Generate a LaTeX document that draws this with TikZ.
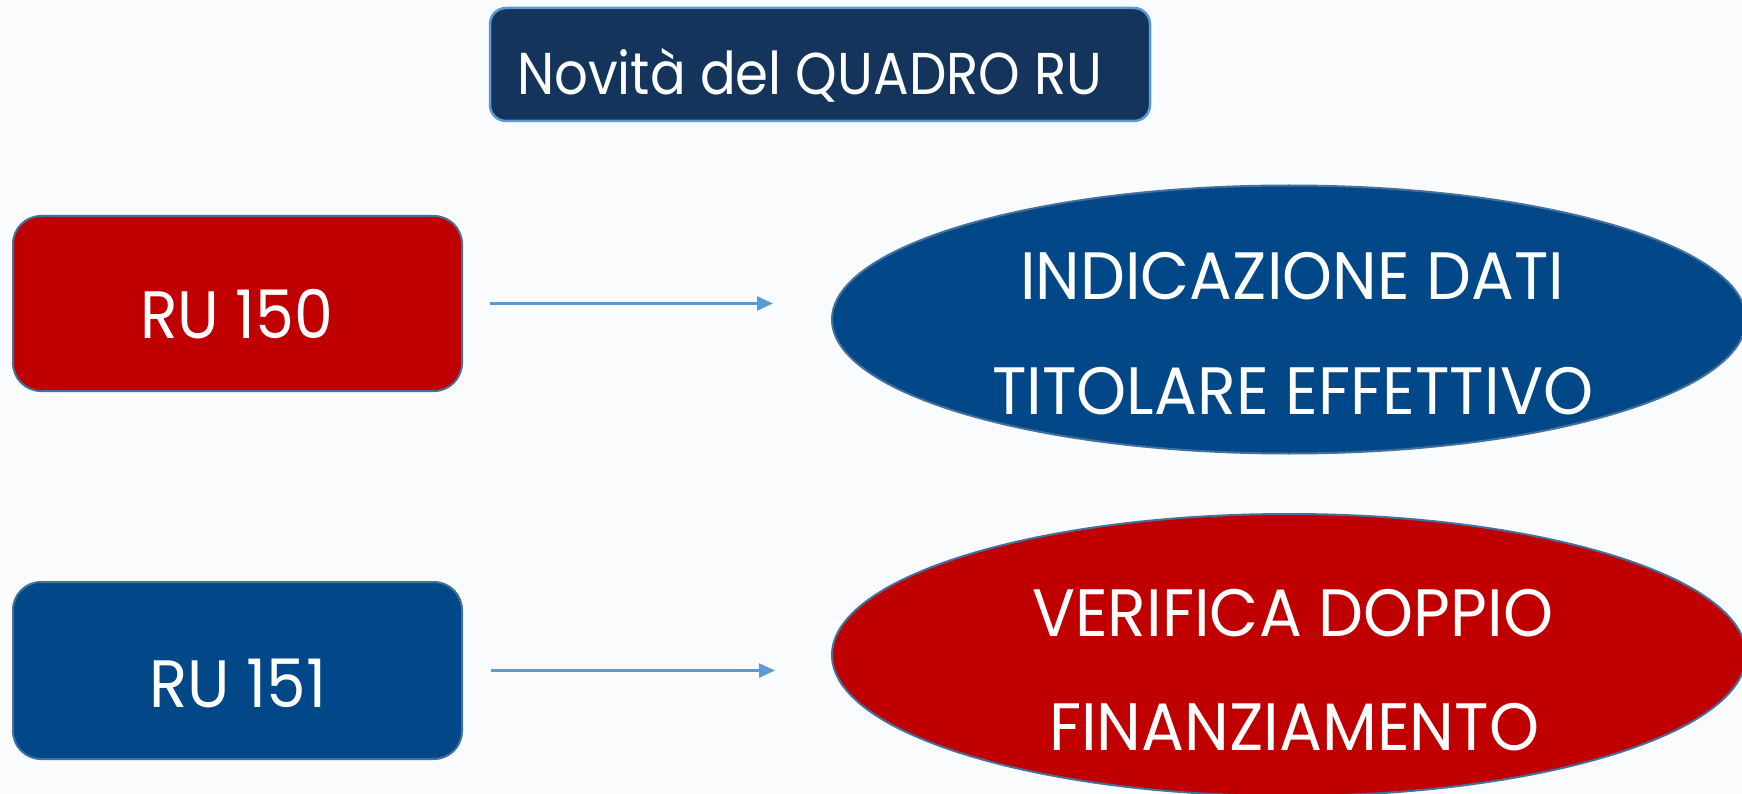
\documentclass[tikz,border=0pt]{standalone}
\usepackage{fontspec}
\setmainfont{Poppins}
\usetikzlibrary{shapes.geometric,arrows.meta}
\definecolor{navy}{RGB}{20,52,92}
\definecolor{lblue}{RGB}{91,155,213}
\definecolor{dred}{RGB}{192,0,0}
\definecolor{mblue}{RGB}{2,71,135}
\definecolor{edgec}{RGB}{65,113,156}
\definecolor{bgc}{RGB}{250,251,252}
\newcommand{\fitw}[2]{\resizebox{#1}{\height}{#2}}
\tikzset{
  rbox/.style={draw=edgec, line width=2pt, rounded corners=28pt, minimum width=449pt, minimum height=175pt, inner sep=0pt},
  oval/.style={ellipse, draw=edgec, line width=2pt, minimum width=914pt, minimum height=268pt, inner sep=0pt},
  lbl/.style={text=white, font=\fontsize{67}{67}\selectfont, inner sep=0pt, anchor=base west},
  arr/.style={draw=lblue, line width=2.5pt, -{Triangle[length=16pt,width=14pt]}}
}
\begin{document}
\begin{tikzpicture}[x=1pt,y=-1pt]
\useasboundingbox (0,0) rectangle (1742,794);
\fill[bgc] (0,0) rectangle (1742,794);
\begin{scope}
\clip (0,0) rectangle (1742,794);
% title
\node[draw=lblue, line width=2.5pt, fill=navy, rounded corners=16pt, minimum width=660pt, minimum height=113pt, inner sep=0pt] (title) at (820,64.5) {};
\node[lbl, font=\fontsize{59}{59}\selectfont] (titletxt) at (517,94.5) {\fitw{585pt}{Novità del QUADRO RU}};
% left boxes
\node[rbox, fill=dred] (r150) at (237.5,303.5) {};
\node[lbl] (t150) at (140,338) {\fitw{193pt}{RU 150}};
\node[rbox, fill=mblue, minimum height=177pt] (r151) at (237.5,670.5) {};
\node[lbl] (t151) at (149,707) {\fitw{177pt}{RU 151}};
% ellipses
\node[oval, fill=mblue] (e1) at (1289,319.5) {};
\node[lbl] (t1a) at (1020,300) {\fitw{544pt}{INDICAZIONE DATI}};
\node[lbl] (t1b) at (992,414) {\fitw{601pt}{TITOLARE EFFETTIVO}};
\node[oval, fill=dred, minimum height=282pt] (e2) at (1289,655) {};
\node[lbl] (t2a) at (1032,636) {\fitw{521pt}{VERIFICA DOPPIO}};
\node[lbl] (t2b) at (1049,750) {\fitw{490pt}{FINANZIAMENTO}};
% arrows
\draw[arr] ([xshift=27pt]r150.east) -- ([xshift=-58pt]r150.east -| e1.west);
\draw[arr] ([xshift=28pt]r151.east) -- ([xshift=-56pt]r151.east -| e2.west);
\end{scope}
\end{tikzpicture}
\end{document}
